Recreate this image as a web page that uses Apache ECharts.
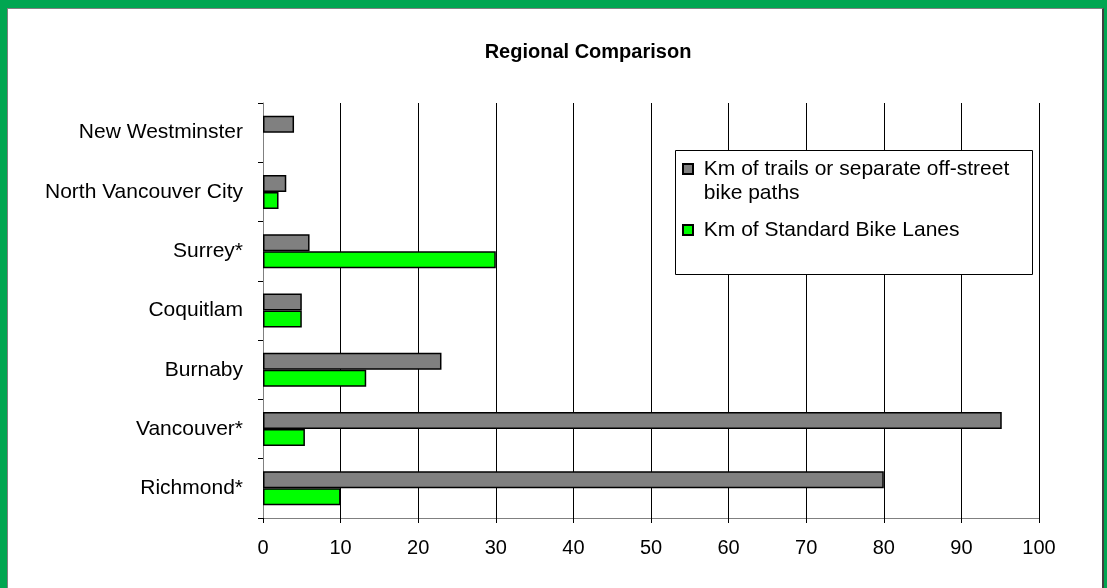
<!DOCTYPE html>
<html>
<head>
<meta charset="utf-8">
<script src="https://cdn.jsdelivr.net/npm/echarts@6/dist/echarts.min.js"></script>
<style>
  html, body { margin: 0; padding: 0; width: 1107px; height: 588px; overflow: hidden; }
  #frame { position: absolute; left: 0; top: 0; width: 1107px; height: 588px; background: #00A651; }
  #inner { position: absolute; left: 7px; top: 8px; width: 1094px; height: 590px; background: #fff;
           border-left: 1px solid #808080; border-top: 1px solid #808080; border-right: 2px solid #404040; }
  #chart { position: absolute; left: 0; top: 0; width: 1107px; height: 588px; }
</style>
</head>
<body>
<div id="frame"><div id="inner"></div></div>
<div id="chart"></div>
<script>
// Data (top to bottom as shown)
const categories = ['New Westminster', 'North Vancouver City', 'Surrey*', 'Coquitlam', 'Burnaby', 'Vancouver*', 'Richmond*'];
const trailsKm = [4, 3, 6, 5, 23, 95.2, 80];
const laneKm = [null, 2, 30, 5, 13.3, 5.4, 10];
const seriesNames = ['Km of trails or separate off-street\nbike paths', 'Km of Standard Bike Lanes'];
const xTicks = [0, 10, 20, 30, 40, 50, 60, 70, 80, 90, 100];

const FONT = '"Liberation Sans", Arial, sans-serif';
const chart = echarts.init(document.getElementById('chart'), null, { renderer: 'canvas' });

chart.setOption({
  backgroundColor: 'transparent',
  animation: false,
  title: {
    text: 'Regional Comparison',
    left: 583, top: 37, textAlign: 'center',
    textStyle: { fontFamily: FONT, fontSize: 20, fontWeight: 'bold', color: '#000' }
  },
  graphic: [{
    type: 'rect', left: 675, top: 150, z: 5,
    shape: { width: 357, height: 124 },
    style: { fill: '#fff', stroke: '#000', lineWidth: 1 }
  }],
  legend: {
    orient: 'vertical', left: 682, top: 133, padding: 0, z: 10,
    itemWidth: 10, itemHeight: 10, itemGap: 13, icon: 'rect',
    selectedMode: false,
    textStyle: { fontFamily: FONT, fontSize: 21, color: '#000', lineHeight: 24 },
    formatter: function (name) {
      return name.indexOf('\n') >= 0 ? '\n ' + name.replace('\n', '\n ') : ' ' + name;
    },
    data: seriesNames
  },
  grid: { left: 263, top: 103, right: 68, bottom: 70, containLabel: false },
  xAxis: {
    type: 'value', min: 0, max: 100, interval: 10,
    axisLine: { show: true, lineStyle: { color: '#808080', width: 1 } },
    axisTick: { show: true, length: 5, lineStyle: { color: '#000' } },
    axisLabel: { margin: 20, fontFamily: FONT, fontSize: 20, color: '#000',
                 formatter: v => xTicks.indexOf(v) >= 0 ? String(v) : '' },
    splitLine: { show: true, lineStyle: { color: '#000', width: 1 } }
  },
  yAxis: {
    type: 'category', inverse: true, data: categories,
    axisLine: { show: true, lineStyle: { color: '#808080', width: 1 } },
    axisTick: { show: true, length: 5, interval: 0, lineStyle: { color: '#000' } },
    axisLabel: { margin: 20, fontFamily: FONT, fontSize: 21, color: '#000', interval: 0 },
    splitLine: { show: false }
  },
  series: [
    {
      name: seriesNames[0], type: 'bar', data: trailsKm,
      barWidth: 17, barGap: '0%',
      itemStyle: { color: '#808080', borderColor: '#000', borderWidth: 1.5 }
    },
    {
      name: seriesNames[1], type: 'bar', data: laneKm,
      barWidth: 17, barGap: '0%',
      itemStyle: { color: '#00FF00', borderColor: '#000', borderWidth: 1.5 }
    }
  ]
});
</script>
</body>
</html>
